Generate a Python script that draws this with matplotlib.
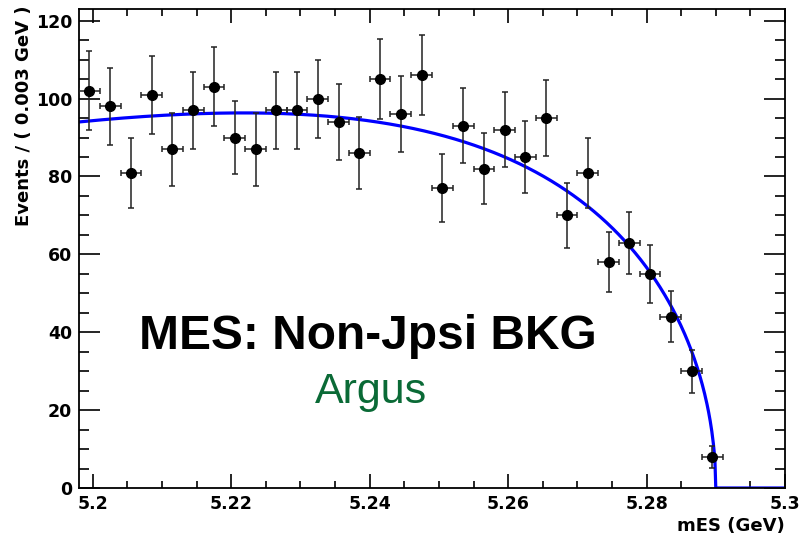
import numpy as np
import matplotlib.pyplot as plt
from matplotlib.ticker import MultipleLocator

# binned mES data, 0.003 GeV bins starting at 5.198
bin_lo = 5.198
bin_width = 0.003
counts = [102, 98, 81, 101, 87, 97, 103, 90, 87, 97, 97, 100, 94, 86, 105,
          96, 106, 77, 93, 82, 92, 85, 95, 70, 81, 58, 63, 55, 44, 30, 8]

# argus fit parameters
argus_m0 = 5.29
argus_c = -19.0
argus_norm = 187.5

x_ticks = [5.2, 5.22, 5.24, 5.26, 5.28, 5.3]
x_ticklabels = ["5.2", "5.22", "5.24", "5.26", "5.28", "5.3"]
y_ticks = [0, 20, 40, 60, 80, 100, 120]

plt.rcParams['font.family'] = ['Liberation Sans', 'DejaVu Sans']

centers = bin_lo + bin_width * (np.arange(len(counts)) + 0.5)
yerr = np.sqrt(counts)


def argus(m):
    u2 = (m / argus_m0) ** 2
    t = np.clip(1 - u2, 0, None)
    return argus_norm * m * np.sqrt(t) * np.exp(argus_c * t)


fig = plt.figure(figsize=(8.02, 5.39), dpi=100)
ax = fig.add_axes([79 / 802, 1 - 488 / 539, 706 / 802, 479 / 539])

mm = np.concatenate([np.linspace(bin_lo, argus_m0, 800), [argus_m0, 5.3]])
ax.plot(mm, argus(mm), color="#0000ff", lw=2.3, zorder=2)

ax.errorbar(centers, counts, yerr=yerr, xerr=bin_width / 2, fmt="o",
            color="black", ecolor="#222222", ms=7, elinewidth=1.1, capsize=2,
            capthick=1.1, zorder=3)

ax.set_xlim(bin_lo, 5.3)
ax.set_ylim(0, 123)

ax.set_xticks(x_ticks)
ax.set_xticklabels(x_ticklabels)
ax.set_yticks(y_ticks)
ax.xaxis.set_minor_locator(MultipleLocator(0.005))
ax.yaxis.set_minor_locator(MultipleLocator(5))

ax.tick_params(axis="x", which="major", direction="in", length=10, width=1.2,
               top=True, labelsize=12.5, pad=5)
ax.tick_params(axis="x", which="minor", direction="in", length=5, width=1.2, top=True)
ax.tick_params(axis="y", which="major", direction="in", length=15, width=1.2,
               right=True, labelsize=12.5, pad=5)
ax.tick_params(axis="y", which="minor", direction="in", length=7.5, width=1.2, right=True)
for lab in ax.get_xticklabels() + ax.get_yticklabels():
    lab.set_fontweight("bold")
    lab.set_family("DejaVu Sans")
for sp in ax.spines.values():
    sp.set_linewidth(1.3)

ax.set_xlabel("mES (GeV)", fontsize=13, fontweight="bold", family="DejaVu Sans",
              loc="right", labelpad=3)
ax.set_ylabel("Events / ( 0.003 GeV )", fontsize=13, fontweight="bold",
              family="DejaVu Sans", loc="top")
ax.yaxis.set_label_coords(-0.065, 1.008)

fig.text(367.5 / 802, 1 - 349 / 539, "MES: Non-Jpsi BKG", fontsize=34.5, fontweight="bold",
         ha="center", va="baseline", color="black")
fig.text(371 / 802, 1 - 403 / 539, "Argus", fontsize=31, ha="center", va="baseline",
         color="#0a6a36")

fig.savefig("out.png", dpi=100)
